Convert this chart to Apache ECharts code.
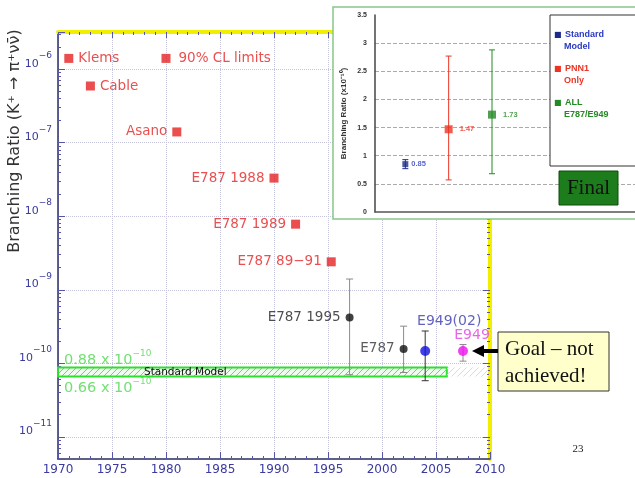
<!DOCTYPE html>
<html><head><meta charset="utf-8">
<script src="https://cdn.jsdelivr.net/npm/echarts@6/dist/echarts.min.js"></script>
<style>html,body{margin:0;padding:0;background:#fff}#c{width:635px;height:478px}</style>
</head><body><div id="c"></div>
<script>
// ---------- main chart data ----------
const limitNames = ['Klems', 'Cable', 'Asano', 'E787 1988', 'E787 1989', 'E787 89\u221291'];
const limitYears = [1971, 1973, 1981, 1990, 1992, 1995.3];
const limitValues = [1.4e-6, 5.9e-7, 1.4e-7, 3.3e-8, 7.8e-9, 2.4e-9];
const limitLabelSide = ['right', 'right', 'left', 'left', 'left', 'left'];

const keyNames = ['90% CL limits'];
const keyYears = [1980];
const keyValues = [1.4e-6];

const measNames = ['E787 1995', 'E787', 'E949(02)', 'E949'];
const measYears = [1997, 2002, 2004, 2007.5];
const measValues = [4.2e-10, 1.57e-10, 1.47e-10, 1.47e-10];
const measLow = [7.0e-11, 7.5e-11, 5.8e-11, 1.07e-10];
const measHigh = [1.4e-9, 3.2e-10, 2.75e-10, 1.8e-10];

const smBand = [0.66e-10, 0.88e-10];           // standard model range
const smBandYears = [1970, 2006, 2010];         // solid part, then faint continuation
const smLabels = ['0.88 x 10', '0.66 x 10'];
const smLabelExp = ['\u221210', '\u221210'];

const xRange = [1970, 2010];
const yRange = [5e-12, 3.2e-6];

// ---------- inset data ----------
const insetNames = ['Standard Model', 'PNN1 Only', 'ALL E787/E949'];
const insetLegendLines = [['Standard', 'Model'], ['PNN1', 'Only'], ['ALL', 'E787/E949']];
const insetPos = [1, 2, 3];
const insetValues = [0.85, 1.47, 1.73];
const insetLow = [0.77, 0.57, 0.68];
const insetHigh = [0.93, 2.77, 2.88];

// ---------- styles ----------
const FONT = '"DejaVu Sans", sans-serif';
const RED = '#e52222';
const measColors = ['#111111', '#111111', '#1010e0', '#ee10ee'];
const measErrColors = ['#8a8a8a', '#8a8a8a', '#333333', '#8a8a8a'];
const measLabelColors = ['#222222', '#333333', '#3a3ab0', '#e040e0'];
const insetColors = ['#1e2a8a', '#ee3322', '#238a23'];
const insetTextColors = ['#2a3ac0', '#ee3322', '#238a23'];
const AXISBLUE = '#3a3aa0';
const GRID = '#c4c4dc';

function hatch(lineColor, bgColor) {
  const c = document.createElement('canvas');
  c.width = 6; c.height = 6;
  const g = c.getContext('2d');
  if (bgColor) { g.fillStyle = bgColor; g.fillRect(0, 0, 6, 6); }
  g.strokeStyle = lineColor; g.lineWidth = 1;
  g.beginPath();
  g.moveTo(0, 6); g.lineTo(6, 0);
  g.moveTo(-1, 1); g.lineTo(1, -1);
  g.moveTo(5, 7); g.lineTo(7, 5);
  g.stroke();
  return c;
}

function errRender(colors, capHalf) {
  return function (params, api) {
    const x = api.value(0), lo = api.value(1), hi = api.value(2);
    const a = api.coord([x, lo]), b = api.coord([x, hi]);
    const st = { stroke: colors[params.dataIndex], lineWidth: 1 };
    return { type: 'group', children: [
      { type: 'line', shape: { x1: a[0], y1: a[1], x2: b[0], y2: b[1] }, style: st },
      { type: 'line', shape: { x1: a[0] - capHalf, y1: a[1], x2: a[0] + capHalf, y2: a[1] }, style: st },
      { type: 'line', shape: { x1: b[0] - capHalf, y1: b[1], x2: b[0] + capHalf, y2: b[1] }, style: st }
    ]};
  };
}

const chart = echarts.init(document.getElementById('c'), null, { renderer: 'canvas' });

const logLabel = {
  color: AXISBLUE, margin: 6, verticalAlign: 'bottom', showMinLabel: false, showMaxLabel: false,
  formatter: v => '{b|10}{s|\u2212' + Math.abs(Math.round(Math.log10(v))) + '}',
  rich: {
    b: { fontSize: 11, color: AXISBLUE, fontFamily: FONT, verticalAlign: 'bottom' },
    s: { fontSize: 9, color: AXISBLUE, fontFamily: FONT, verticalAlign: 'bottom', padding: [0, 0, 9, 0] }
  }
};

const option = {
  animation: false,
  backgroundColor: '#ffffff',
  grid: [
    { left: 58, right: 145, top: 32, bottom: 19 },
    { left: 375, top: 15, width: 261, height: 197 }
  ],
  xAxis: [
    { type: 'value', gridIndex: 0, min: xRange[0], max: xRange[1], interval: 5, position: 'bottom',
      axisLine: { lineStyle: { color: '#2b2b66', width: 1.5 } },
      axisTick: { inside: true, length: 7, lineStyle: { color: '#5555aa' } },
      minorTick: { show: true, splitNumber: 5, length: 3, lineStyle: { color: '#5555aa' } },
      axisLabel: { color: AXISBLUE, fontSize: 12, margin: 5, fontFamily: FONT, formatter: v => String(v) },
      splitLine: { show: true, lineStyle: { type: 'dotted', color: GRID } } },
    { type: 'value', gridIndex: 0, min: xRange[0], max: xRange[1], interval: 5, position: 'top',
      axisLine: { lineStyle: { color: '#f2ee00', width: 4 } },
      axisTick: { inside: true, length: 6, lineStyle: { color: '#5555aa' } },
      minorTick: { show: true, splitNumber: 5, length: 3, lineStyle: { color: '#5555aa' } },
      axisLabel: { show: false }, splitLine: { show: false } },
    { type: 'value', gridIndex: 1, min: 0.3, max: 6.3, z: 10,
      axisLine: { lineStyle: { color: '#555', width: 1.5 } },
      axisTick: { show: false }, axisLabel: { show: false }, splitLine: { show: false } }
  ],
  yAxis: [
    { type: 'log', gridIndex: 0, logBase: 10, min: yRange[0], max: yRange[1], splitNumber: 6,
      axisLine: { lineStyle: { color: '#2b2b66', width: 1.5 } },
      axisTick: { inside: true, length: 7, lineStyle: { color: '#5555aa' } },
      minorTick: { show: true, splitNumber: 9, length: 3, lineStyle: { color: '#5555aa' } },
      axisLabel: logLabel,
      splitLine: { show: true, showMinLine: false, showMaxLine: false, lineStyle: { type: 'dotted', color: GRID } } },
    { type: 'log', gridIndex: 0, logBase: 10, min: yRange[0], max: yRange[1], splitNumber: 6, position: 'right',
      axisLine: { lineStyle: { color: '#f2ee00', width: 4 } },
      axisTick: { inside: true, length: 7, lineStyle: { color: '#5555aa' } },
      minorTick: { show: true, splitNumber: 9, length: 3, lineStyle: { color: '#5555aa' } },
      axisLabel: { show: false }, splitLine: { show: false } },
    { type: 'value', gridIndex: 1, min: 0, max: 3.5, interval: 0.5, z: 10,
      name: 'Branching Ratio (x10\u207B\u00B9\u2070)', nameLocation: 'middle', nameGap: 27,
      nameTextStyle: { fontSize: 8, fontWeight: 'bold', color: '#333', fontFamily: '"Liberation Sans", Arial' },
      axisLine: { show: true, lineStyle: { color: '#444', width: 1.5 } },
      axisTick: { show: false },
      axisLabel: { fontSize: 7, fontWeight: 'bold', color: '#333', margin: 8, fontFamily: '"Liberation Sans", Arial' },
      splitLine: { show: true, showMinLine: false, showMaxLine: false, lineStyle: { type: 'dashed', color: '#aaa', width: 1 } } }
  ],
  legend: {
    z: 20, left: 544, top: 24, orient: 'vertical', itemGap: 10, icon: 'none', itemWidth: 0, itemHeight: 0,
    selectedMode: false,
    data: insetNames.map((n, i) => ({ name: n, textStyle: { rich: {
      m: { color: insetColors[i], fontSize: 8, fontFamily: FONT },
      t: { color: insetTextColors[i], fontSize: 9, fontWeight: 'bold', lineHeight: 11, fontFamily: '"Liberation Sans", Arial' },
      p: { width: 10 }
    } } })),
    formatter: name => {
      const i = insetNames.indexOf(name);
      return '{m|\u25A0} {t|' + insetLegendLines[i][0] + '}\n{p|}{t|' + insetLegendLines[i][1] + '}';
    }
  },
  series: [
    { name: 'limits', type: 'scatter', xAxisIndex: 0, yAxisIndex: 0, symbol: 'rect', symbolSize: 9, z: 3,
      itemStyle: { color: RED },
      label: { show: true, formatter: '{b}', color: RED, fontSize: 13.5, fontFamily: FONT, distance: 5 },
      data: limitYears.map((y, i) => ({ name: limitNames[i], value: [y, limitValues[i]], label: { position: limitLabelSide[i] } })),
      markArea: { silent: true, z: 1,
        data: [
          [ { xAxis: smBandYears[0], yAxis: smBand[0],
              itemStyle: { color: { image: hatch('#7acc7a', '#f0fbf0'), repeat: 'repeat' }, borderColor: '#2ee02e', borderWidth: 2 },
              label: { show: true, formatter: 'Standard Model', position: 'insideLeft', distance: 87, color: '#111', fontSize: 10.5, fontFamily: FONT } },
            { xAxis: smBandYears[1], yAxis: smBand[1] } ],
          [ { xAxis: smBandYears[1], yAxis: smBand[0],
              itemStyle: { color: { image: hatch('#c5e8c5', null), repeat: 'repeat' }, borderWidth: 0 },
              label: { show: false } },
            { xAxis: smBandYears[2], yAxis: smBand[1] } ]
        ] } },
    { name: 'key', type: 'scatter', xAxisIndex: 0, yAxisIndex: 0, symbol: 'rect', symbolSize: 9, z: 3,
      itemStyle: { color: RED },
      label: { show: true, formatter: '{b}', position: 'right', color: RED, fontSize: 13.5, fontFamily: FONT, distance: 8 },
      data: keyYears.map((y, i) => ({ name: keyNames[i], value: [y, keyValues[i]] })) },
    { name: 'measErr', type: 'custom', xAxisIndex: 0, yAxisIndex: 0, z: 2,
      renderItem: errRender(measErrColors, 3.5), encode: { x: 0, y: [1, 2] },
      data: measYears.map((y, i) => [y, measLow[i], measHigh[i]]) },
    { name: 'meas', type: 'scatter', xAxisIndex: 0, yAxisIndex: 0, symbol: 'circle', z: 4,
      label: { show: true, formatter: '{b}', fontSize: 13.5, fontFamily: FONT },
      data: measYears.map((y, i) => ({
        name: measNames[i], value: [y, measValues[i]],
        symbolSize: i < 2 ? 8 : 10,
        itemStyle: { color: measColors[i] },
        label: [
          { position: 'left', distance: 5, color: measLabelColors[i] },
          { position: 'left', distance: 5, color: measLabelColors[i] },
          { position: 'top', offset: [24, -13], color: measLabelColors[i], fontSize: 14 },
          { position: 'top', offset: [9, 1], color: measLabelColors[i], fontSize: 14 }
        ][i]
      })) },
    { name: 'smLabels', type: 'scatter', xAxisIndex: 0, yAxisIndex: 0, symbolSize: 0, z: 3, silent: true,
      label: { show: true, position: 'right', distance: 6,
        rich: {
          a: { fontSize: 14.5, color: '#4ed84e', fontFamily: FONT, verticalAlign: 'bottom' },
          e: { fontSize: 9, color: '#4ed84e', fontFamily: FONT, verticalAlign: 'bottom', padding: [0, 0, 9, 0] }
        } },
      data: smLabels.map((t, i) => ({ value: [smBandYears[0], smBand[1 - i]],
        label: { formatter: '{a|' + t + '}{e|' + smLabelExp[i] + '}', offset: [0, i === 0 ? -9 : 10] } })) },
    { name: 'insetErr', type: 'custom', xAxisIndex: 2, yAxisIndex: 2, z: 11,
      renderItem: errRender(insetColors, 3), encode: { x: 0, y: [1, 2] },
      data: insetPos.map((p, i) => [p, insetLow[i], insetHigh[i]]) }
  ].concat(insetNames.map((n, i) => ({
    name: n, type: 'scatter', xAxisIndex: 2, yAxisIndex: 2, symbol: 'rect', symbolSize: i === 0 ? 6 : 8, z: 12,
    itemStyle: { color: insetColors[i] },
    label: { show: true, position: 'right', distance: i === 0 ? 3 : 7, formatter: p => p.value[1].toFixed(2),
      fontSize: 7.5, fontWeight: 'bold', color: insetTextColors[i], fontFamily: '"Liberation Sans", Arial' },
    data: [[insetPos[i], insetValues[i]]]
  }))),
  graphic: [
    { type: 'text', x: 15, y: 141, rotation: Math.PI / 2, z: 5,
      style: { text: 'Branching Ratio (K\u207A \u2192 \u03C0\u207A\u03BD\u03BD\u0304)', font: '16px "DejaVu Sans"', fill: '#333',
        align: 'center', verticalAlign: 'middle', textAlign: 'center', textVerticalAlign: 'middle' } },
    { type: 'rect', z: 5, shape: { x: 333, y: 7, width: 320, height: 212 },
      style: { fill: '#ffffff', stroke: '#86c886', lineWidth: 1.5 } },
    { type: 'rect', z: 15, shape: { x: 550, y: 15, width: 100, height: 151 },
      style: { fill: '#ffffff', stroke: '#333', lineWidth: 1 } },
    { type: 'rect', z: 15, shape: { x: 559, y: 171, width: 59, height: 34 },
      style: { fill: '#1d7d1d', stroke: '#0d4d0d', lineWidth: 1 } },
    { type: 'text', z: 16, x: 588.5, y: 188,
      style: { text: 'Final', font: '21px "Liberation Serif"', fill: '#111', align: 'center', verticalAlign: 'middle', textAlign: 'center', textVerticalAlign: 'middle' } },
    { type: 'rect', z: 15, shape: { x: 498, y: 332, width: 111, height: 59 },
      style: { fill: '#ffffcc', stroke: '#333', lineWidth: 1 } },
    { type: 'text', z: 16, x: 505, y: 349,
      style: { text: 'Goal \u2013 not', font: '21px "Liberation Serif"', fill: '#111', align: 'left', verticalAlign: 'middle', textAlign: 'left', textVerticalAlign: 'middle' } },
    { type: 'text', z: 16, x: 505, y: 376,
      style: { text: 'achieved!', font: '21px "Liberation Serif"', fill: '#111', align: 'left', verticalAlign: 'middle', textAlign: 'left', textVerticalAlign: 'middle' } },
    { type: 'rect', z: 16, shape: { x: 482, y: 349, width: 16, height: 4 }, style: { fill: '#000' } },
    { type: 'polygon', z: 16, shape: { points: [[472, 351], [484, 345], [484, 357]] }, style: { fill: '#000' } },
    { type: 'text', z: 16, x: 578, y: 449,
      style: { text: '23', font: '11px "Liberation Serif"', fill: '#222', align: 'center', verticalAlign: 'middle', textAlign: 'center', textVerticalAlign: 'middle' } }
  ]
};
chart.setOption(option);
</script>
</body></html>
